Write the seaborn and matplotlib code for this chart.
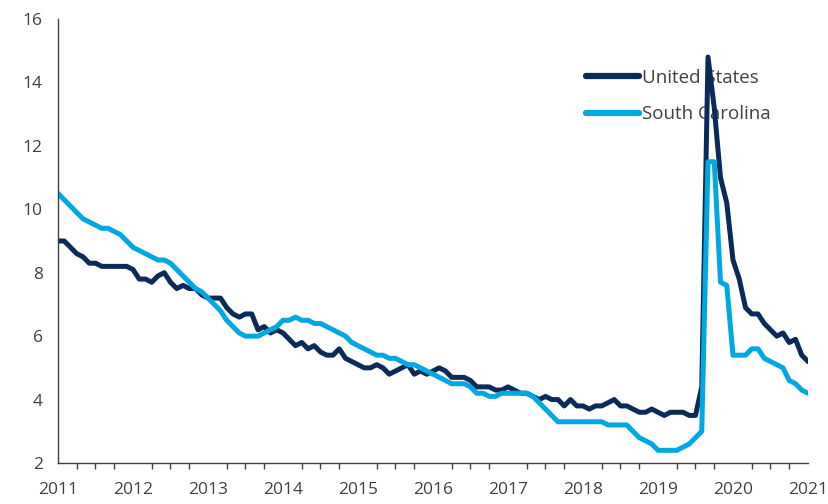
import numpy as np
import pandas as pd
import matplotlib
matplotlib.use("Agg")
import matplotlib.pyplot as plt
import seaborn as sns

# Unemployment rate (%), monthly, Aug 2011 - Aug 2021
us_rate = [
    9.0, 9.0, 8.8, 8.6, 8.5,
    8.3, 8.3, 8.2, 8.2, 8.2, 8.2, 8.2, 8.1, 7.8, 7.8, 7.7, 7.9,
    8.0, 7.7, 7.5, 7.6, 7.5, 7.5, 7.3, 7.2, 7.2, 7.2, 6.9, 6.7,
    6.6, 6.7, 6.7, 6.2, 6.3, 6.1, 6.2, 6.1, 5.9, 5.7, 5.8, 5.6,
    5.7, 5.5, 5.4, 5.4, 5.6, 5.3, 5.2, 5.1, 5.0, 5.0, 5.1, 5.0,
    4.8, 4.9, 5.0, 5.1, 4.8, 4.9, 4.8, 4.9, 5.0, 4.9, 4.7, 4.7,
    4.7, 4.6, 4.4, 4.4, 4.4, 4.3, 4.3, 4.4, 4.3, 4.2, 4.2, 4.1,
    4.0, 4.1, 4.0, 4.0, 3.8, 4.0, 3.8, 3.8, 3.7, 3.8, 3.8, 3.9,
    4.0, 3.8, 3.8, 3.7, 3.6, 3.6, 3.7, 3.6, 3.5, 3.6, 3.6, 3.6,
    3.5, 3.5, 4.4, 14.8, 13.2, 11.0, 10.2, 8.4, 7.8, 6.9, 6.7, 6.7,
    6.4, 6.2, 6.0, 6.1, 5.8, 5.9, 5.4, 5.2,
]
sc_rate = [
    10.5, 10.3, 10.1, 9.9, 9.7,
    9.6, 9.5, 9.4, 9.4, 9.3, 9.2, 9.0, 8.8, 8.7, 8.6, 8.5, 8.4,
    8.4, 8.3, 8.1, 7.9, 7.7, 7.5, 7.4, 7.2, 7.0, 6.8, 6.5, 6.3,
    6.1, 6.0, 6.0, 6.0, 6.1, 6.2, 6.3, 6.5, 6.5, 6.6, 6.5, 6.5,
    6.4, 6.4, 6.3, 6.2, 6.1, 6.0, 5.8, 5.7, 5.6, 5.5, 5.4, 5.4,
    5.3, 5.3, 5.2, 5.1, 5.1, 5.0, 4.9, 4.8, 4.7, 4.6, 4.5, 4.5,
    4.5, 4.4, 4.2, 4.2, 4.1, 4.1, 4.2, 4.2, 4.2, 4.2, 4.2, 4.1,
    3.9, 3.7, 3.5, 3.3, 3.3, 3.3, 3.3, 3.3, 3.3, 3.3, 3.3, 3.2,
    3.2, 3.2, 3.2, 3.0, 2.8, 2.7, 2.6, 2.4, 2.4, 2.4, 2.4, 2.5,
    2.6, 2.8, 3.0, 11.5, 11.5, 7.7, 7.6, 5.4, 5.4, 5.4, 5.6, 5.6,
    5.3, 5.2, 5.1, 5.0, 4.6, 4.5, 4.3, 4.2,
]
year_labels = ["2011", "2012", "2013", "2014", "2015", "2016",
               "2017", "2018", "2019", "2020", "2021"]
series_names = ["United States", "South Carolina"]

month = np.arange(len(us_rate))
df = pd.DataFrame({
    "month": np.concatenate([month, month]),
    "rate": us_rate + sc_rate,
    "region": [series_names[0]] * len(us_rate) + [series_names[1]] * len(sc_rate),
})

sns.set_style("white")
plt.rcParams["font.family"] = ["Open Sans", "DejaVu Sans"]

fig = plt.figure(figsize=(8.29, 5.04), dpi=100)
ax = fig.add_axes([58 / 829, 1 - 463 / 504, 750 / 829, 444 / 504])

sns.lineplot(data=df, x="month", y="rate", hue="region",
             palette=["#0a2b57", "#00a8e1"], linewidth=3.6, ax=ax)

ax.set_xlim(0, len(us_rate) - 1)
ax.set_ylim(2, 16)
ax.set_yticks(range(2, 17, 2))
ax.set_xticks(np.arange(0, 121, 12))
ax.set_xticklabels(year_labels)
ax.set_xticks(np.arange(0, 121, 3), minor=True)
ax.set_xlabel("")
ax.set_ylabel("")

sns.despine(ax=ax)
for s in ["left", "bottom"]:
    ax.spines[s].set_color("#404040")
    ax.spines[s].set_linewidth(1.0)

ax.tick_params(axis="both", which="major", direction="out", color="#404040",
               labelcolor="#404040", labelsize=12.5, width=1)
ax.tick_params(axis="y", which="major", length=7, pad=4)
ax.tick_params(axis="x", which="major", length=6, pad=8)
ax.tick_params(axis="x", which="minor", direction="out", length=4,
               color="#404040", width=1, bottom=True)

leg = ax.legend(loc="upper left", bbox_to_anchor=(0.682, 0.926), frameon=False,
                fontsize=13.5, handlelength=2.8, handletextpad=0.15,
                labelspacing=1.0, labelcolor="#404040")
for line in leg.get_lines():
    line.set_linewidth(4.5)
leg.set_zorder(1)

fig.savefig("out.png", dpi=100)
